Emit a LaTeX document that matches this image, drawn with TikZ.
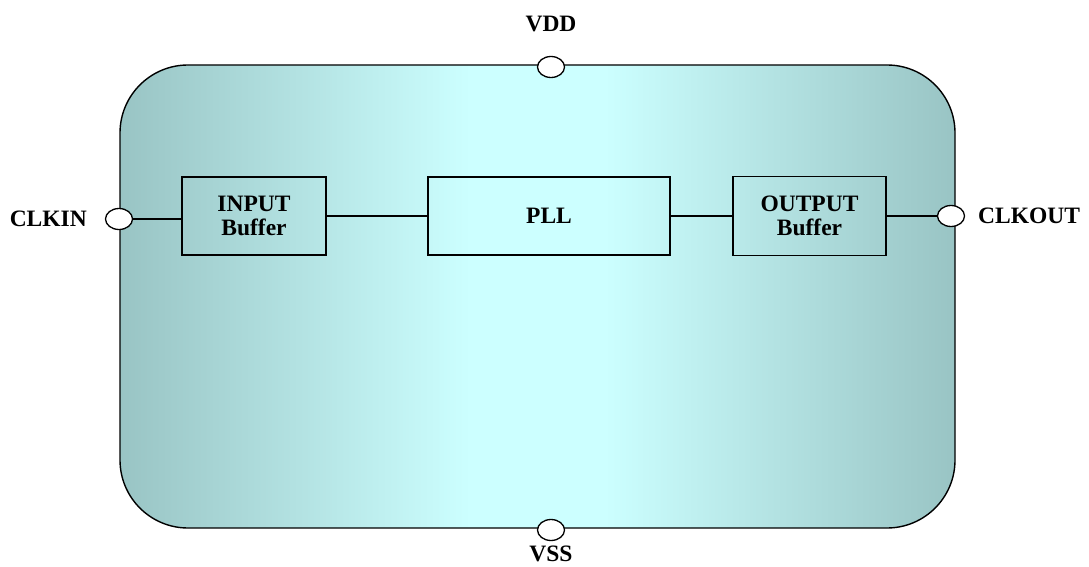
\documentclass[tikz,border=0pt]{standalone}
\usepackage{fontspec}
\setmainfont{Liberation Serif}
\usetikzlibrary{shapes.geometric}
\usepackage{xcolor}
\definecolor{ChipEdge}{RGB}{153, 196, 196}
\definecolor{ChipMid}{RGB}{204, 255, 255}
\pgfdeclarehorizontalshading{chipshade}{100bp}{color(0bp)=(ChipEdge); color(25bp)=(ChipEdge); color(46bp)=(ChipMid); color(54bp)=(ChipMid); color(75bp)=(ChipEdge); color(100bp)=(ChipEdge)}
\newcommand{\pinfont}{\fontsize{23.5}{23.5}\selectfont\bfseries}

\begin{document}
\begin{tikzpicture}[x=1pt, y=1pt,
    chip/.style={draw, line width=1.4pt, rounded corners=68pt, shade, shading=chipshade, inner sep=0pt},
    blk/.style={draw, line width=1.4pt, align=center, font=\pinfont, inner sep=0pt},
    port/.style={draw, fill=white, ellipse, line width=1.3pt, minimum width=27pt, minimum height=21pt, inner sep=0pt},
    pinlbl/.style={font=\pinfont, inner sep=0pt},
    wire/.style={line width=1.3pt}]
  \useasboundingbox (0,0) rectangle (1089,566);
  % Chip body
  \node[chip, minimum width=835pt, minimum height=463pt] (chip) at (537.5,269.5) {};
  % Inner blocks
  \node[blk, minimum width=144pt, minimum height=78pt] (inbuf) at (254,350) {INPUT\\Buffer};
  \node[blk, minimum width=242pt, minimum height=78pt] (pll) at (549,350) {PLL};
  \node[blk, minimum width=153pt, minimum height=79pt] (outbuf) at (809.5,350) {OUTPUT\\Buffer};
  % Pins
  \node[port] (clkin) at (119,347) {};
  \node[port] (clkout) at (951,350) {};
  \node[port] (vdd) at (551,499) {};
  \node[port] (vss) at (551,36) {};
  % Pin labels
  \node[pinlbl, anchor=east] (lclkin) at (87,347) {CLKIN};
  \node[pinlbl, anchor=west] (lclkout) at (978,350) {CLKOUT};
  \node[pinlbl] (lvdd) at (551,542) {VDD};
  \node[pinlbl] (lvss) at (551,12) {VSS};
  % Wires
  \draw[wire] (clkin.east) -- (clkin -| inbuf.west);
  \draw[wire] (inbuf.east) -- (pll.west);
  \draw[wire] (pll.east) -- (outbuf.west);
  \draw[wire] (outbuf.east) -- (clkout.west);
\end{tikzpicture}
\end{document}
